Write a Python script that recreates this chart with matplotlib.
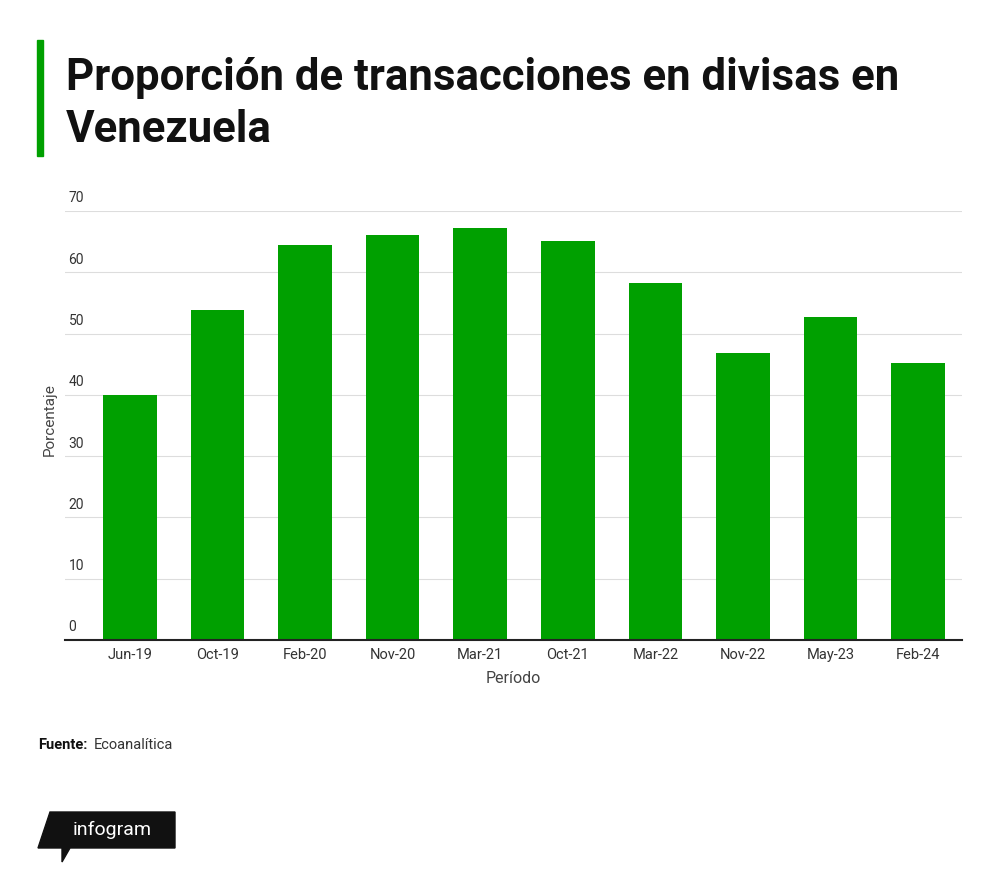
import matplotlib
matplotlib.use("Agg")
import matplotlib.pyplot as plt
from matplotlib.patches import Rectangle, Polygon

categories = ["Jun-19","Oct-19","Feb-20","Nov-20","Mar-21","Oct-21","Mar-22","Nov-22","May-23","Feb-24"]
values = [40.0, 53.8, 64.4, 66.1, 67.2, 65.1, 58.2, 46.8, 52.7, 45.2]
yticks = [0,10,20,30,40,50,60,70]

W, H = 1000, 881
fig = plt.figure(figsize=(W/100, H/100), dpi=100)
fig.patch.set_facecolor("white")
plt.rcParams['font.family'] = ['Roboto', 'DejaVu Sans']

ax = fig.add_axes([65/W, 1-640/H, (962-65)/W, (640-211)/H])
x = list(range(len(categories)))
ax.bar(x, values, width=0.61, color="#00a000", zorder=2)
ax.set_xlim(-0.74, len(categories)-1+0.5)
ax.set_ylim(0, 70)
for t in yticks:
    if t > 0:
        ax.axhline(t, color="#dddddd", lw=0.8, zorder=1)
    ax.text(-0.7, t+0.9, str(t), fontsize=10, color="#333333", ha="left", va="bottom")
ax.set_yticks([])
ax.set_xticks(x)
ax.set_xticklabels(categories, fontsize=10.5, color="#333333")
ax.tick_params(axis="x", length=0, pad=6)
for s in ["top","right","left"]:
    ax.spines[s].set_visible(False)
ax.spines["bottom"].set_color("#222222")
ax.spines["bottom"].set_linewidth(1.5)
ax.set_xlabel("Período", fontsize=11.5, color="#444444", labelpad=6)
fig.text(50/W, 1-420/H, "Porcentaje", rotation=90, fontsize=11, color="#444444", ha="center", va="center")

fig.patches.append(Rectangle((37/W, 1-156/H), 6/W, 116/H, transform=fig.transFigure, color="#00a000"))
fig.text(66/W, 1-78/H, "Proporción de transacciones en divisas en", fontsize=31.5, fontweight="bold", color="#111111", va="center")
fig.text(66/W, 1-130/H, "Venezuela", fontsize=31.5, fontweight="bold", color="#111111", va="center")

fig.text(38/W, 1-745/H, "Fuente:", fontsize=10.5, fontweight="bold", color="#111111", va="center")
fig.text(94/W, 1-745/H, "Ecoanalítica", fontsize=10.5, color="#333333", va="center")

pts = [(50,812),(175,812),(175,848),(70,848),(62,862),(62,848),(38,848)]
fig.patches.append(Polygon([(px/W, 1-py/H) for px,py in pts], closed=True, transform=fig.transFigure, color="#111111"))
fig.text(112/W, 1-830/H, "infogram", fontsize=14, color="white", ha="center", va="center")

fig.savefig("out.png", dpi=100)
